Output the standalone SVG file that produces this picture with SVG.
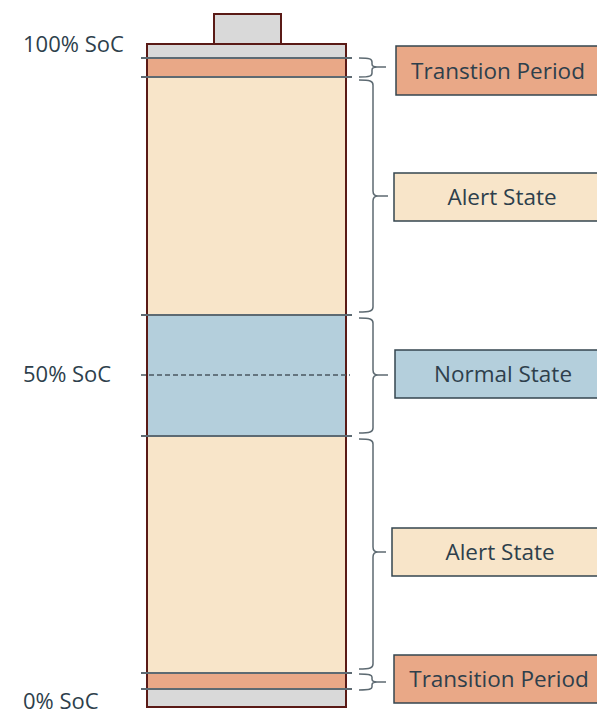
<svg xmlns="http://www.w3.org/2000/svg" width="597" height="714" viewBox="0 0 597 714">
<style>
.lbl{font-family:"Open Sans","Liberation Sans",sans-serif;font-size:22px;fill:#2e3f4c}
.box{stroke:#34454f;stroke-width:1.5}
.bt{font-family:"Open Sans","Liberation Sans",sans-serif;font-size:22.5px;fill:#2e3f4c;text-anchor:middle}
.sep{stroke:#5d6a72;stroke-width:2}
.br{fill:none;stroke:#5d6a72;stroke-width:1.5}
.case{stroke:#5a1a16;stroke-width:2}
</style>
<g id="battery">
<rect x="214" y="14" width="67" height="30" fill="#d9d9d9" class="case"/>
<rect x="147" y="44" width="199" height="14" fill="#d9d9d9"/>
<rect x="147" y="58" width="199" height="19" fill="#e9a887"/>
<rect x="147" y="77" width="199" height="238" fill="#f8e5c9"/>
<rect x="147" y="315" width="199" height="121" fill="#b4cfdc"/>
<rect x="147" y="436" width="199" height="237" fill="#f8e5c9"/>
<rect x="147" y="673" width="199" height="16" fill="#e9a887"/>
<rect x="147" y="689" width="199" height="18" fill="#d9d9d9"/>
<rect x="147" y="44" width="199" height="663" fill="none" class="case"/>
<line x1="141" y1="58" x2="352" y2="58" class="sep"/>
<line x1="141" y1="77" x2="352" y2="77" class="sep"/>
<line x1="141" y1="315" x2="352" y2="315" class="sep"/>
<line x1="141" y1="436" x2="352" y2="436" class="sep"/>
<line x1="141" y1="673" x2="352" y2="673" class="sep"/>
<line x1="141" y1="689" x2="352" y2="689" class="sep"/>
<line x1="141" y1="375" x2="350" y2="375" stroke="#4a5860" stroke-width="1.5" stroke-dasharray="5,3"/>
</g>
<g id="soc-labels">
<text x="23" y="52" class="lbl">100% SoC</text>
<text x="23" y="382" class="lbl">50% SoC</text>
<text x="23" y="709" class="lbl">0% SoC</text>
</g>
<g id="connectors">
<path class="br" d="M359,58 C370,58 372,59 372,62 L372,64 C372,66 374,67 377,67 L386,67 M377,67 C374,67 372,68 372,70 L372,73 C372,76 370,77 359,77"/>
<path class="br" d="M359,80 C370,80 373,81 373,85 L373,191 C373,194 375,196 378,196 L388,196 M378,196 C375,196 373,198 373,201 L373,307 C373,311 370,312 359,312"/>
<path class="br" d="M359,318 C370,318 373,319 373,323 L373,370 C373,373 375,375 378,375 L388,375 M378,375 C375,375 373,377 373,380 L373,428 C373,432 370,433 359,433"/>
<path class="br" d="M359,439 C370,439 373,440 373,444 L373,547 C373,550 375,552 378,552 L386,552 M378,552 C375,552 373,554 373,557 L373,664 C373,668 370,669 359,669"/>
<path class="br" d="M359,674 C370,674 372,675 372,677 L372,679 C372,681 374,682 377,682 L386,682 M377,682 C374,682 372,683 372,685 L372,687 C372,689 370,690 359,690"/>
</g>
<g id="node-transition-top">
<rect x="396" y="46" width="210" height="49" fill="#e9a887" class="box"/>
<text x="498" y="79" class="bt">Transtion Period</text>
</g>
<g id="node-alert-top">
<rect x="394" y="173" width="212" height="48" fill="#f8e5c9" class="box"/>
<text x="502" y="205" class="bt">Alert State</text>
</g>
<g id="node-normal">
<rect x="395" y="350" width="211" height="48" fill="#b4cfdc" class="box"/>
<text x="503" y="382" class="bt">Normal State</text>
</g>
<g id="node-alert-bottom">
<rect x="392" y="528" width="214" height="48" fill="#f8e5c9" class="box"/>
<text x="500" y="560" class="bt">Alert State</text>
</g>
<g id="node-transition-bottom">
<rect x="394" y="655" width="212" height="48" fill="#e9a887" class="box"/>
<text x="499" y="687" class="bt">Transition Period</text>
</g>
</svg>
